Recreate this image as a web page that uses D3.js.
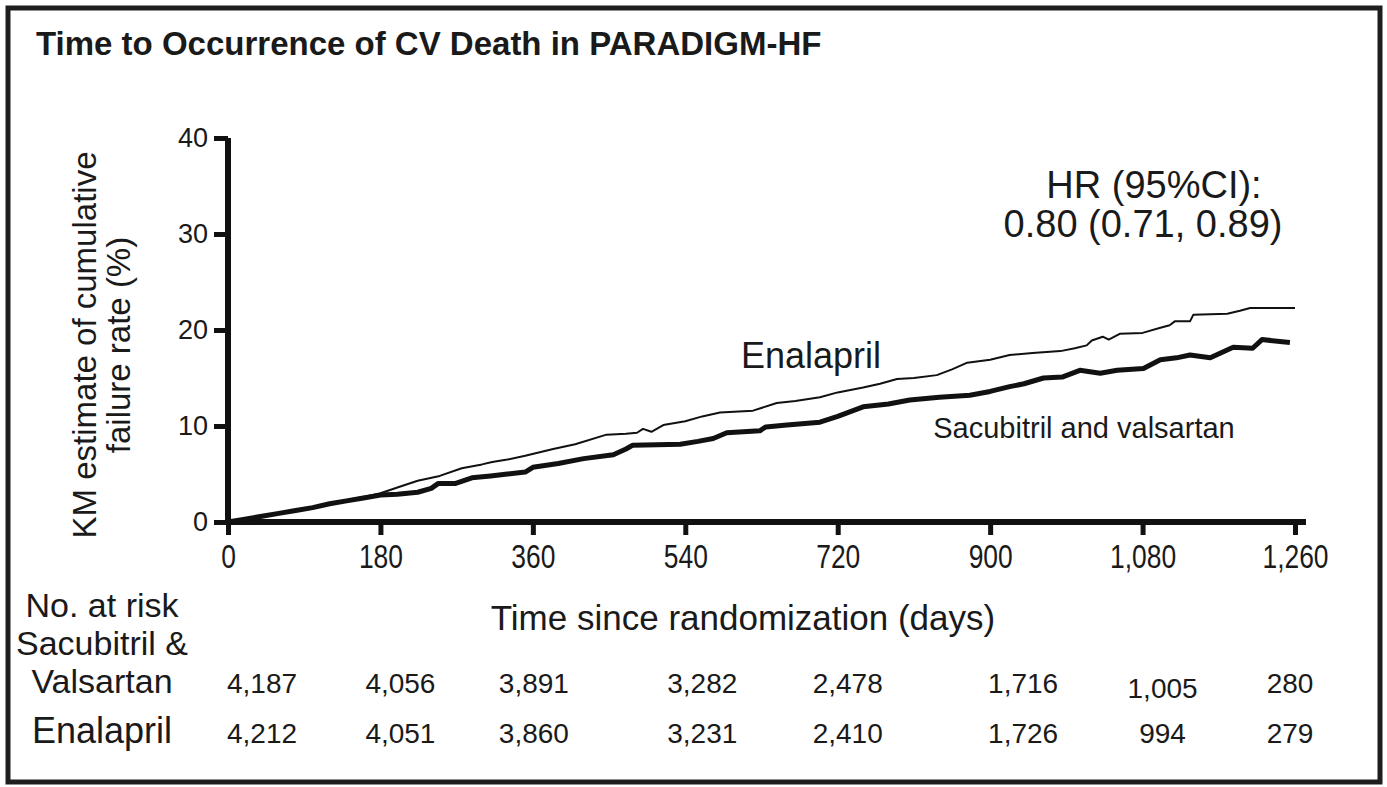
<!DOCTYPE html>
<html>
<head>
<meta charset="utf-8">
<script src="https://cdn.jsdelivr.net/npm/d3@7"></script>
<style>
    body { margin: 0; background: #fff; }
    text { font-family: "Liberation Sans", Arial, sans-serif; fill: #1a1a1a; }
</style>
</head>
<body>
<script>
// KM curves (days, cumulative failure %)
var enaDays = [0, 20, 40, 60, 80, 100, 120, 140, 160, 180, 200, 224, 250, 276, 300, 312, 330, 351, 384, 410, 447, 470, 483, 490, 500, 514, 540, 560, 581, 620, 648, 670, 699, 720, 750, 770, 790, 810, 837, 855, 873, 900, 923, 950, 983, 1000, 1014, 1020, 1033, 1040, 1053, 1080, 1100, 1112, 1118, 1136, 1140, 1180, 1195, 1207, 1260];
var enaRate = [0, 0.3, 0.6, 0.9, 1.2, 1.5, 1.9, 2.3, 2.6, 3.0, 3.6, 4.3, 4.8, 5.6, 6.0, 6.25, 6.5, 6.9, 7.6, 8.1, 9.1, 9.2, 9.3, 9.7, 9.4, 10.1, 10.5, 11.0, 11.4, 11.6, 12.4, 12.6, 13.0, 13.5, 14.0, 14.4, 14.9, 15.0, 15.3, 15.9, 16.6, 16.9, 17.4, 17.6, 17.8, 18.1, 18.4, 18.9, 19.3, 19.0, 19.6, 19.7, 20.2, 20.5, 20.9, 20.9, 21.6, 21.7, 22.0, 22.3, 22.3];

var sacDays = [0, 20, 40, 60, 80, 100, 120, 140, 160, 180, 200, 224, 240, 248, 268, 288, 310, 330, 351, 360, 390, 420, 455, 470, 478, 534, 555, 573, 589, 628, 635, 660, 699, 720, 750, 780, 805, 840, 876, 900, 923, 940, 963, 985, 1006, 1030, 1050, 1081, 1101, 1120, 1136, 1160, 1187, 1210, 1221, 1254];
var sacRate = [0, 0.3, 0.6, 0.9, 1.2, 1.5, 1.9, 2.2, 2.5, 2.8, 2.9, 3.1, 3.5, 4.0, 4.0, 4.6, 4.8, 5.0, 5.2, 5.7, 6.1, 6.6, 7.0, 7.6, 8.0, 8.1, 8.4, 8.7, 9.3, 9.5, 9.9, 10.1, 10.4, 11.0, 12.0, 12.3, 12.7, 13.0, 13.2, 13.6, 14.1, 14.4, 15.0, 15.1, 15.8, 15.5, 15.8, 16.0, 16.9, 17.1, 17.4, 17.1, 18.2, 18.1, 19.0, 18.7];

var xTicks = [0, 180, 360, 540, 720, 900, 1080, 1260];
var yTicks = [0, 10, 20, 30, 40];

// numbers at risk
var riskTimes = [0, 180, 360, 540, 720, 900, 1080, 1260];
var riskSac = ["4,187", "4,056", "3,891", "3,282", "2,478", "1,716", "1,005", "280"];
var riskEna = ["4,212", "4,051", "3,860", "3,231", "2,410", "1,726", "994", "279"];
// layout only: small horizontal shifts of the risk numbers as set in the picture
var riskNudge = [34, 20, 1, 17, 10, 33, 20, -5];

var W = 1387, H = 787;

var svg = d3.select("body").append("svg")
    .attr("width", W)
    .attr("height", H);

// frame
svg.append("rect")
    .attr("x", 8).attr("y", 8)
    .attr("width", 1372).attr("height", 774)
    .attr("fill", "none")
    .attr("stroke", "#1e1e1e")
    .attr("stroke-width", 5);

svg.append("text")
    .attr("x", 36).attr("y", 55)
    .attr("font-size", 33)
    .attr("font-weight", "bold")
    .text("Time to Occurrence of CV Death in PARADIGM-HF");

var x = d3.scaleLinear().domain([0, 1260]).range([228, 1295]);
var y = d3.scaleLinear().domain([0, 40]).range([522, 138]);

// axes
var yAxis = svg.append("g")
    .attr("transform", "translate(" + x(0) + ",0)")
    .call(d3.axisLeft(y).tickValues(yTicks).tickSize(14).tickPadding(6));
yAxis.select(".domain").remove();
yAxis.selectAll(".tick line").attr("stroke", "#111").attr("stroke-width", 5);
yAxis.selectAll(".tick text")
    .attr("font-size", 27)
    .attr("fill", "#1a1a1a")
    .attr("font-family", "Liberation Sans, Arial, sans-serif");

var xAxis = svg.append("g")
    .attr("transform", "translate(0," + y(0) + ")")
    .call(d3.axisBottom(x).tickValues(xTicks).tickSize(13).tickPadding(10)
        .tickFormat(d3.format(",")));
xAxis.select(".domain").remove();
xAxis.selectAll(".tick line").attr("stroke", "#111").attr("stroke-width", 5);
xAxis.selectAll(".tick text")
    .attr("font-size", 33)
    .attr("fill", "#1a1a1a")
    .attr("font-family", "Liberation Sans, Arial, sans-serif")
    .attr("transform", "scale(0.8,1)");

// axis lines
svg.append("line")
    .attr("x1", x(0)).attr("x2", x(0))
    .attr("y1", y(40)).attr("y2", y(0) + 2.5)
    .attr("stroke", "#111").attr("stroke-width", 6);
svg.append("line")
    .attr("x1", x(0) - 3).attr("x2", x(1260) + 11)
    .attr("y1", y(0)).attr("y2", y(0))
    .attr("stroke", "#111").attr("stroke-width", 6);

// curves
var line = d3.line()
    .x(function (d) { return x(d[0]); })
    .y(function (d) { return y(d[1]); });

svg.append("path")
    .datum(d3.zip(enaDays, enaRate))
    .attr("fill", "none")
    .attr("stroke", "#111")
    .attr("stroke-width", 2)
    .attr("stroke-linejoin", "round")
    .attr("d", line);

svg.append("path")
    .datum(d3.zip(sacDays, sacRate))
    .attr("fill", "none")
    .attr("stroke", "#111")
    .attr("stroke-width", 5)
    .attr("stroke-linejoin", "round")
    .attr("d", line);

// labels in the plot
svg.append("text")
    .attr("x", 811).attr("y", 368)
    .attr("font-size", 36)
    .attr("text-anchor", "middle")
    .text("Enalapril");

svg.append("text")
    .attr("x", 1084).attr("y", 438)
    .attr("font-size", 29)
    .attr("text-anchor", "middle")
    .text("Sacubitril and valsartan");

svg.append("text")
    .attr("x", 1154).attr("y", 198)
    .attr("font-size", 38)
    .attr("text-anchor", "middle")
    .text("HR (95%CI):");
svg.append("text")
    .attr("x", 1143).attr("y", 237)
    .attr("font-size", 38)
    .attr("text-anchor", "middle")
    .text("0.80 (0.71, 0.89)");

// y axis title
var yt = svg.append("text")
    .attr("transform", "translate(96,345) rotate(-90)")
    .attr("font-size", 33)
    .attr("text-anchor", "middle");
yt.append("tspan").attr("x", 0).attr("y", 0).text("KM estimate of cumulative");
yt.append("tspan").attr("x", 0).attr("y", 34).text("failure rate (%)");

// x axis title
svg.append("text")
    .attr("x", 743).attr("y", 630)
    .attr("font-size", 35)
    .attr("text-anchor", "middle")
    .text("Time since randomization (days)");

// numbers at risk table
var rowLabels = [
    {t: "No. at risk", y: 617, s: 34},
    {t: "Sacubitril &", y: 655, s: 34},
    {t: "Valsartan", y: 693, s: 34},
    {t: "Enalapril", y: 743, s: 36}
];
svg.selectAll(".rowlab")
    .data(rowLabels)
    .enter().append("text")
    .attr("class", "rowlab")
    .attr("x", 102)
    .attr("y", function (d) { return d.y; })
    .attr("font-size", function (d) { return d.s; })
    .attr("text-anchor", "middle")
    .text(function (d) { return d.t; });

svg.selectAll(".risksac")
    .data(riskSac)
    .enter().append("text")
    .attr("class", "risksac")
    .attr("x", function (d, i) { return x(riskTimes[i]) + riskNudge[i]; })
    .attr("y", function (d, i) { return i === 6 ? 698 : 693; })
    .attr("font-size", 28)
    .attr("text-anchor", "middle")
    .text(function (d) { return d; });

svg.selectAll(".riskena")
    .data(riskEna)
    .enter().append("text")
    .attr("class", "riskena")
    .attr("x", function (d, i) { return x(riskTimes[i]) + riskNudge[i]; })
    .attr("y", 743)
    .attr("font-size", 28)
    .attr("text-anchor", "middle")
    .text(function (d) { return d; });
</script>
</body>
</html>
